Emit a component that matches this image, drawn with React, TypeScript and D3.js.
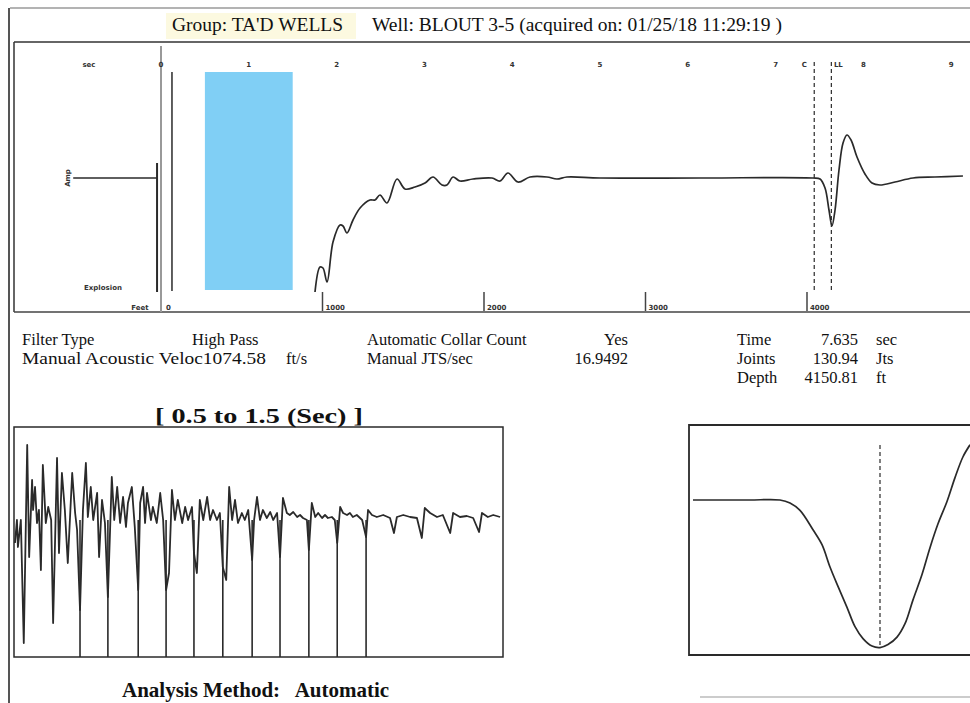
import React from "react";
import * as d3 from "d3";

const W = 970;
const H = 703;

// ---- header / info text
const groupName = "TA'D WELLS";
const wellName = "BLOUT 3-5";
const acquired = "01/25/18 11:29:19";

// ---- top trace (time in s, amplitude)
const traceTime = [
  1.754, 1.811, 1.845, 1.891, 1.959, 2.039, 2.073, 2.118, 2.187, 2.267, 2.38, 2.437, 2.494, 2.574,
  2.688, 2.779, 2.893, 3.007, 3.098, 3.2, 3.257, 3.326, 3.405, 3.554, 3.77, 3.861, 3.952, 4.066,
  4.203, 4.396, 4.51, 4.624, 5.0, 6.139, 7.426, 7.506, 7.563, 7.608, 7.642, 7.677, 7.722, 7.768,
  7.813, 7.859, 7.927, 8.018, 8.098, 8.189, 8.36, 8.565, 8.815, 9.134,
];
const traceAmp = [
  -1.14, -0.89, -0.9, -1.04, -0.64, -0.47, -0.48, -0.55, -0.42, -0.3, -0.22, -0.22, -0.17, -0.25,
  -0.01, -0.11, -0.09, -0.05, 0.01, -0.07, -0.07, 0.01, -0.03, -0.01, 0, -0.03, 0.05, -0.04,
  0.01, 0.01, -0.01, 0.01, 0, 0, 0, -0.01, -0.1, -0.32, -0.48, -0.32, 0.08, 0.35,
  0.43, 0.38, 0.21, 0.04, -0.05, -0.07, -0.04, 0, 0.01, 0.02,
];

const timeTicks = [0, 1, 2, 3, 4, 5, 6, 7, 8, 9];
const depthTicks = [0, 1000, 2000, 3000, 4000];
const collarTime = 7.635;
const collarJoints = 130.94;
const collarDepth = 4150.81;
const cursorTime = 7.44;
const analysisWindow = [0.5, 1.5];
const startMarkTime = 0.125;
const explosionSpan = [-1.0, -0.045];

const acousticVelocity = 1074.58;
const jtsPerSec = 16.9492;

// ---- window trace 0.5 - 1.5 s (ms, amplitude)
const winTime = [
  502, 506, 508, 514, 520, 527, 531, 537, 539, 543, 547, 551, 555, 559, 565, 570, 576, 580, 588, 592,
  598, 604, 610, 619, 625, 629, 635, 641, 647, 651, 657, 662, 670, 674, 680, 686, 692, 700, 705, 711,
  717, 723, 729, 733, 741, 747, 754, 758, 764, 768, 772, 780, 784, 792, 799, 805, 811, 817, 823, 829,
  835, 844, 850, 856, 864, 868, 874, 880, 887, 895, 901, 907, 915, 921, 927, 934, 940, 946, 952, 958,
  966, 972, 979, 987, 991, 997, 1003, 1009, 1017, 1024, 1030, 1038, 1044, 1050, 1058, 1064, 1071, 1079,
  1085, 1091, 1099, 1103, 1109, 1116, 1122, 1130, 1136, 1142, 1150, 1156, 1161, 1167, 1173, 1181, 1187,
  1193, 1201, 1212, 1220, 1224, 1232, 1242, 1255, 1269, 1277, 1283, 1296, 1310, 1324, 1334, 1340, 1351,
  1365, 1377, 1392, 1398, 1412, 1426, 1439, 1451, 1457, 1469, 1480, 1494,
];
const winAmp = [
  -0.23, 0, -0.27, 0, -1.23, 0.75, -0.37, 0.4, 0.1, 0.33, -0.03, 0.1, -0.5, 0.55, -0.03, 0.13, 0, -1.03, 0.62, -0.33,
  0.47, 0.1, -0.43, 0.47, 0.07, -0.1, -0.9, 0.1, 0.57, 0.03, 0.33, 0, 0.27, -0.37, 0.2, -0.03, -0.77, 0.43, 0, 0.33,
  -0.03, 0.23, -0.07, 0.17, 0.33, -0.07, -0.7, 0.17, 0.33, -0.03, 0.27, 0, 0.13, -0.03, 0.27, 0, -0.7, -0.53, 0.3, 0,
  0.2, -0.03, 0.13, 0, 0.13, -0.33, -0.53, 0.2, 0, 0.23, 0, 0.1, 0, 0.07, -0.47, -0.6, 0.33, 0, 0.2, -0.03,
  0.07, 0, 0.1, -0.4, 0, 0.23, 0, 0.1, 0.02, 0.08, 0, 0.07, -0.37, 0.22, 0.07, 0.05, 0.08, 0.03,
  0.05, 0.02, 0, -0.3, 0.17, 0.03, 0.07, 0.02, 0.05, 0.02, 0.03, 0, -0.23, 0.13, 0.07, 0.05, 0.07,
  0.03, 0.05, 0, -0.17, 0.1, 0.05, 0.03, 0.05, 0.02, -0.13, 0.03, 0.05, 0.03, 0.02, -0.18, 0.12, 0.07,
  0.03, 0.05, -0.13, 0.07, 0.03, 0.04, 0.02, -0.12, 0.07, 0.03, 0.05, 0.03,
];
const collarMarks = [635, 692, 754, 811, 868, 927, 987, 1044, 1103, 1161, 1220];

// ---- collar detail (lag ms, amplitude)
const lagMs = [
  -93.5, -80, -65, -50, -45, -40, -33.5, -29, -25, -21, -16.5, -12.5, -8.5, -4, 0, 4, 8.5, 12.5,
  16.5, 21, 25, 29, 33.5, 37.5, 41.5, 45,
];
const lagAmp = [
  0, 0, 0, 0, -0.02, -0.07, -0.2, -0.3, -0.45, -0.58, -0.72, -0.85, -0.93, -0.98, -0.99, -0.97, -0.92, -0.83,
  -0.67, -0.5, -0.32, -0.16, -0.01, 0.15, 0.29, 0.37,
];

const SERIF = "'Liberation Serif', 'Times New Roman', serif";
const SANS = "'DejaVu Sans', Arial, sans-serif";
const INK = "#2a2a2a";

export default function App() {
  // top chart scales
  const xTime = d3.scaleLinear().domain([0, 9]).range([161, 161 + 9 * 87.8]);
  const yTop = d3.scaleLinear().domain([-1.34, 1.36]).range([312, 42]);
  const xDepth = d3.scaleLinear().domain([0, collarDepth]).range([xTime(0), xTime(collarTime)]);

  const topLine = d3
    .line<number>()
    .x((_, i) => xTime(traceTime[i]))
    .y((d) => yTop(d))
    .curve(d3.curveCatmullRom.alpha(0.5));

  // window panel scales
  const xWin = d3.scaleLinear().domain([500, 1500]).range([14, 503]);
  const yWin = d3.scaleLinear().domain([-1.37, 0.93]).range([657, 427]);
  const winLine = d3
    .line<number>()
    .x((_, i) => xWin(winTime[i]))
    .y((d) => yWin(d));

  // collar detail scales
  const xLag = d3.scaleLinear().domain([-95.5, 45]).range([689, 970]);
  const yLag = d3.scaleLinear().domain([-1.04, 0.503]).range([655, 425]);
  const lagLine = d3
    .line<number>()
    .x((_, i) => xLag(lagMs[i]))
    .y((d) => yLag(d))
    .curve(d3.curveCatmullRom.alpha(0.5));

  const tiny = { fontFamily: SANS, fontSize: 7, fontWeight: 700, fill: "#333" } as const;
  const info = { fontFamily: SERIF, fontSize: 16.5, fill: "#111" } as const;
  const rows = [345, 364, 383];
  const numEnd = 858;
  const unitX = 876;

  return (
    <svg
      width={W}
      height={H}
      viewBox={`0 0 ${W} ${H}`}
      style={{ position: "absolute", left: 0, top: 0, background: "#fff" }}
    >
      {/* page frame */}
      <line x1={10} x2={970} y1={8} y2={8} stroke="#9a9a9a" strokeWidth={1.5} />
      <line x1={9} x2={9} y1={8} y2={703} stroke="#555" strokeWidth={2} />
      <line x1={700} x2={970} y1={697} y2={697} stroke="#bbb" strokeWidth={1.5} />

      {/* header */}
      <rect x={166} y={13} width={190} height={26} fill="#fbf8d8" opacity={0.8} />
      <text x={172} y={31} style={{ ...info, fontSize: 18 }} textLength={171} lengthAdjust="spacingAndGlyphs">
        {`Group: ${groupName}`}
      </text>
      <text x={372} y={31} style={{ ...info, fontSize: 18 }} textLength={410} lengthAdjust="spacingAndGlyphs">
        {`Well: ${wellName} (acquired on: ${acquired} )`}
      </text>
      <line x1={14} x2={970} y1={42} y2={42} stroke="#333" strokeWidth={1.5} />

      {/* top chart frame */}
      <line x1={14} x2={14} y1={42} y2={312} stroke="#333" strokeWidth={1.5} />
      <line x1={14} x2={970} y1={312} y2={312} stroke="#444" strokeWidth={1.5} />

      {/* analysis window band */}
      <rect
        x={xTime(analysisWindow[0])}
        y={yTop(1.06)}
        width={xTime(analysisWindow[1]) - xTime(analysisWindow[0])}
        height={yTop(-1.12) - yTop(1.06)}
        fill="#80cff5"
      />

      {/* explosion marker */}
      <line x1={xTime(0)} x2={xTime(0)} y1={46} y2={312} stroke="#999" strokeWidth={2} />
      <line
        x1={xTime(explosionSpan[0])}
        x2={xTime(explosionSpan[1])}
        y1={yTop(0)}
        y2={yTop(0)}
        stroke={INK}
        strokeWidth={1.6}
      />
      <line
        x1={xTime(explosionSpan[1])}
        x2={xTime(explosionSpan[1])}
        y1={yTop(0.15)}
        y2={yTop(-1.14)}
        stroke={INK}
        strokeWidth={2}
      />
      <line
        x1={xTime(startMarkTime)}
        x2={xTime(startMarkTime)}
        y1={yTop(1.06)}
        y2={yTop(-1.13)}
        stroke={INK}
        strokeWidth={1.5}
      />
      <text x={103} y={290} textAnchor="middle" style={tiny}>
        Explosion
      </text>
      <text transform={`translate(70,${yTop(0)}) rotate(-90)`} textAnchor="middle" style={tiny}>
        Amp
      </text>

      {/* time labels */}
      <text x={89} y={67} textAnchor="middle" style={tiny}>
        sec
      </text>
      {timeTicks.map((t) => (
        <text key={t} x={xTime(t)} y={67} textAnchor="middle" style={tiny}>
          {t}
        </text>
      ))}

      {/* collar cursors */}
      {[cursorTime, collarTime].map((t) => (
        <line
          key={t}
          x1={xTime(t)}
          x2={xTime(t)}
          y1={yTop(1.16)}
          y2={yTop(-1.12)}
          stroke={INK}
          strokeWidth={1.2}
          strokeDasharray="4,3"
        />
      ))}
      <text x={xTime(cursorTime) - 10} y={67} textAnchor="middle" style={tiny}>
        C
      </text>
      <text x={xTime(collarTime) + 7} y={67} textAnchor="middle" style={tiny}>
        LL
      </text>

      {/* main trace */}
      <path d={topLine(traceAmp) ?? ""} fill="none" stroke={INK} strokeWidth={1.7} />

      {/* depth axis */}
      <text x={140} y={310} textAnchor="middle" style={tiny}>
        Feet
      </text>
      {depthTicks.map((d) => (
        <g key={d}>
          {d > 0 && <line x1={xDepth(d)} x2={xDepth(d)} y1={292} y2={311} stroke="#444" strokeWidth={1.5} />}
          <text x={xDepth(d) + (d > 0 ? 3 : 5)} y={310} style={tiny}>
            {d}
          </text>
        </g>
      ))}

      {/* info block */}
      <text x={22} y={rows[0]} style={info}>Filter Type</text>
      <text x={192} y={rows[0]} style={info}>High Pass</text>
      <text x={367} y={rows[0]} style={info}>Automatic Collar Count</text>
      <text x={628} y={rows[0]} textAnchor="end" style={info}>Yes</text>
      <text x={22} y={rows[1]} style={info} textLength={244} lengthAdjust="spacingAndGlyphs">
        {`Manual Acoustic Veloc${acousticVelocity}`}
      </text>
      <text x={286} y={rows[1]} style={info}>ft/s</text>
      <text x={367} y={rows[1]} style={info}>Manual JTS/sec</text>
      <text x={628} y={rows[1]} textAnchor="end" style={info}>{jtsPerSec}</text>

      <text x={737} y={rows[0]} style={info}>Time</text>
      <text x={numEnd} y={rows[0]} textAnchor="end" style={info}>{collarTime.toFixed(3)}</text>
      <text x={unitX} y={rows[0]} style={info}>sec</text>
      <text x={737} y={rows[1]} style={info}>Joints</text>
      <text x={numEnd} y={rows[1]} textAnchor="end" style={info}>{collarJoints.toFixed(2)}</text>
      <text x={unitX} y={rows[1]} style={info}>Jts</text>
      <text x={737} y={rows[2]} style={info}>Depth</text>
      <text x={numEnd} y={rows[2]} textAnchor="end" style={info}>{collarDepth.toFixed(2)}</text>
      <text x={unitX} y={rows[2]} style={info}>ft</text>

      {/* window panel */}
      <rect x={14} y={427} width={489} height={230} fill="none" stroke={INK} strokeWidth={1.5} />
      <text
        x={155}
        y={423}
        textLength={208}
        lengthAdjust="spacingAndGlyphs"
        style={{ fontFamily: SERIF, fontSize: 22, fontWeight: 700, fill: "#111" }}
      >
        [ 0.5  to  1.5 (Sec) ]
      </text>
      {collarMarks.map((m) => (
        <line key={m} x1={xWin(m)} x2={xWin(m)} y1={yWin(0)} y2={657} stroke={INK} strokeWidth={1.6} />
      ))}
      <path d={winLine(winAmp) ?? ""} fill="none" stroke={INK} strokeWidth={1.8} strokeLinejoin="round" />
      <text
        x={122}
        y={697}
        style={{ fontFamily: SERIF, fontSize: 21, fontWeight: 700, fill: "#111" }}
        xmlSpace="preserve"
      >
        Analysis Method:   Automatic
      </text>

      {/* collar detail panel */}
      <polyline points="970,425 689,425 689,655 970,655" fill="none" stroke={INK} strokeWidth={1.8} />
      <line x1={xLag(0)} x2={xLag(0)} y1={445} y2={yLag(-0.99)} stroke={INK} strokeWidth={1.2} strokeDasharray="4,3" />
      <path d={lagLine(lagAmp) ?? ""} fill="none" stroke={INK} strokeWidth={1.7} />
    </svg>
  );
}
